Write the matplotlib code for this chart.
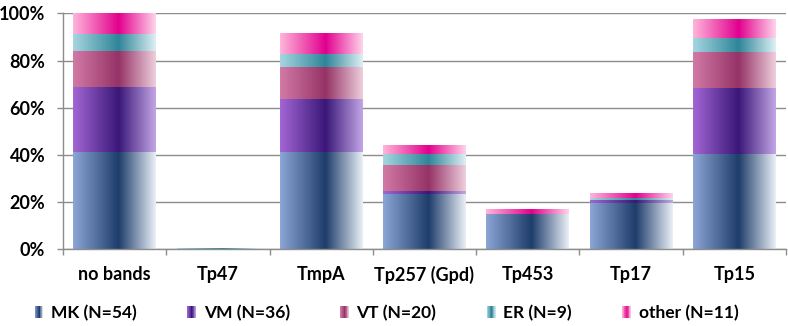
import numpy as np
import matplotlib
matplotlib.use("Agg")
import matplotlib.pyplot as plt
from matplotlib.patches import Rectangle
from matplotlib.legend_handler import HandlerBase
from matplotlib.colors import to_rgb
from matplotlib.ticker import FixedLocator, PercentFormatter

plt.rcParams['font.family'] = ['Lato', 'DejaVu Sans']

categories = ["no bands", "Tp47", "TmpA", "Tp257 (Gpd)", "Tp453", "Tp17", "Tp15"]
series_names = ["MK (N=54)", "VM (N=36)", "VT (N=20)", "ER (N=9)", "other (N=11)"]
MK = [41.2, 0.0, 41.2, 23.4, 15.1, 19.5, 40.4]
VM = [27.6, 0.0, 22.4, 1.5, 0.0, 1.5, 27.8]
VT = [15.5, 0.0, 13.8, 10.8, 0.0, 0.0, 15.6]
ER = [7.1, 0.4, 5.4, 4.7, 0.0, 0.8, 6.0]
other = [8.6, 0.0, 8.9, 3.5, 1.8, 1.8, 7.8]
series_values = [MK, VM, VT, ER, other]

# gradient stops (left, centre, right)
gradients = [
    ("#8CA6D6", "#1E3D6B", "#EAF0F7"),
    ("#A366D4", "#3A1778", "#C3A6E6"),
    ("#D27AA6", "#953366", "#EECFDD"),
    ("#A6D6E0", "#2F8599", "#DDF0F4"),
    ("#FFB6DA", "#E2008E", "#FFD4EA"),
]
CENTER_POS = 0.55


def grad_color(stops, t):
    l, c, r = (np.array(to_rgb(s)) for s in stops)
    if t <= CENTER_POS:
        f = t / CENTER_POS
        return l * (1 - f) + c * f
    f = (t - CENTER_POS) / (1 - CENTER_POS)
    return c * (1 - f) + r * f


def grad_array(stops, n=256):
    ts = np.linspace(0, 1, n)
    return np.array([[grad_color(stops, t) for t in ts]])


class GradHandler(HandlerBase):
    def __init__(self, stops, n=12):
        super().__init__()
        self.stops = stops
        self.n = n

    def create_artists(self, legend, orig_handle, xdescent, ydescent,
                       width, height, fontsize, trans):
        arts = []
        w = width / self.n
        for i in range(self.n):
            t = (i + 0.5) / self.n
            r = Rectangle((-xdescent + i * w, -ydescent), w * 1.05, height,
                          facecolor=grad_color(self.stops, t), edgecolor='none',
                          transform=trans)
            arts.append(r)
        return arts


fig = plt.figure(figsize=(7.88, 3.26), dpi=100)
ax = fig.add_axes([0.0799, 0.2353, 0.9175, 0.7233])

x = np.arange(len(categories))
bottom = np.zeros(len(categories))
grid_col = "#8C8C8C"

handles = []
handler_map = {}
for name, vals, stops in zip(series_names, series_values, gradients):
    vals = np.array(vals, dtype=float)
    bars = ax.bar(x, vals, width=0.8, bottom=bottom, facecolor='none',
                  edgecolor='none', zorder=2)
    img = grad_array(stops)
    for p in bars.patches:
        if p.get_height() <= 0:
            continue
        x0, y0 = p.get_x(), p.get_y()
        ax.imshow(img, extent=[x0, x0 + p.get_width(), y0, y0 + p.get_height()],
                  aspect='auto', interpolation='bilinear', zorder=2)
    bottom += vals
    h = Rectangle((0, 0), 1, 1)
    handles.append(h)
    handler_map[h] = GradHandler(stops)

ax.set_xlim(-0.5, len(categories) - 0.5)
ax.set_ylim(0, 100)
ax.set_aspect('auto')

ax.yaxis.set_major_locator(FixedLocator([0, 20, 40, 60, 80, 100]))
ax.yaxis.set_major_formatter(PercentFormatter(decimals=0))
ax.yaxis.grid(True, color=grid_col, linewidth=1.0, zorder=0)
ax.set_axisbelow(True)

ax.set_xticks(x)
ax.set_xticklabels(categories)
ax.xaxis.set_minor_locator(FixedLocator(np.arange(-0.5, len(categories), 1.0)))
ax.tick_params(axis='x', which='major', length=0, pad=12, labelsize=13)
ax.tick_params(axis='x', which='minor', length=4.3, width=1.0, color=grid_col, direction='out')
ax.tick_params(axis='y', which='major', length=4.3, width=1.0, color=grid_col,
               direction='out', pad=8.4, labelsize=13)
for lab in ax.get_xticklabels() + ax.get_yticklabels():
    lab.set_fontweight('bold')
    lab.set_color('black')

for s in ['top', 'right']:
    ax.spines[s].set_visible(False)
for s in ['left', 'bottom']:
    ax.spines[s].set_color(grid_col)
    ax.spines[s].set_linewidth(1.0)

leg = ax.legend(handles, series_names, handler_map=handler_map, ncol=5,
                loc='center', bbox_to_anchor=(0.4905, 0.04),
                bbox_transform=fig.transFigure, frameon=False,
                prop={'weight': 'bold', 'size': 12.5},
                handlelength=0.5, handleheight=0.66, handletextpad=0.45,
                columnspacing=2.9, borderpad=0, borderaxespad=0)

fig.savefig("out.png", dpi=100)
